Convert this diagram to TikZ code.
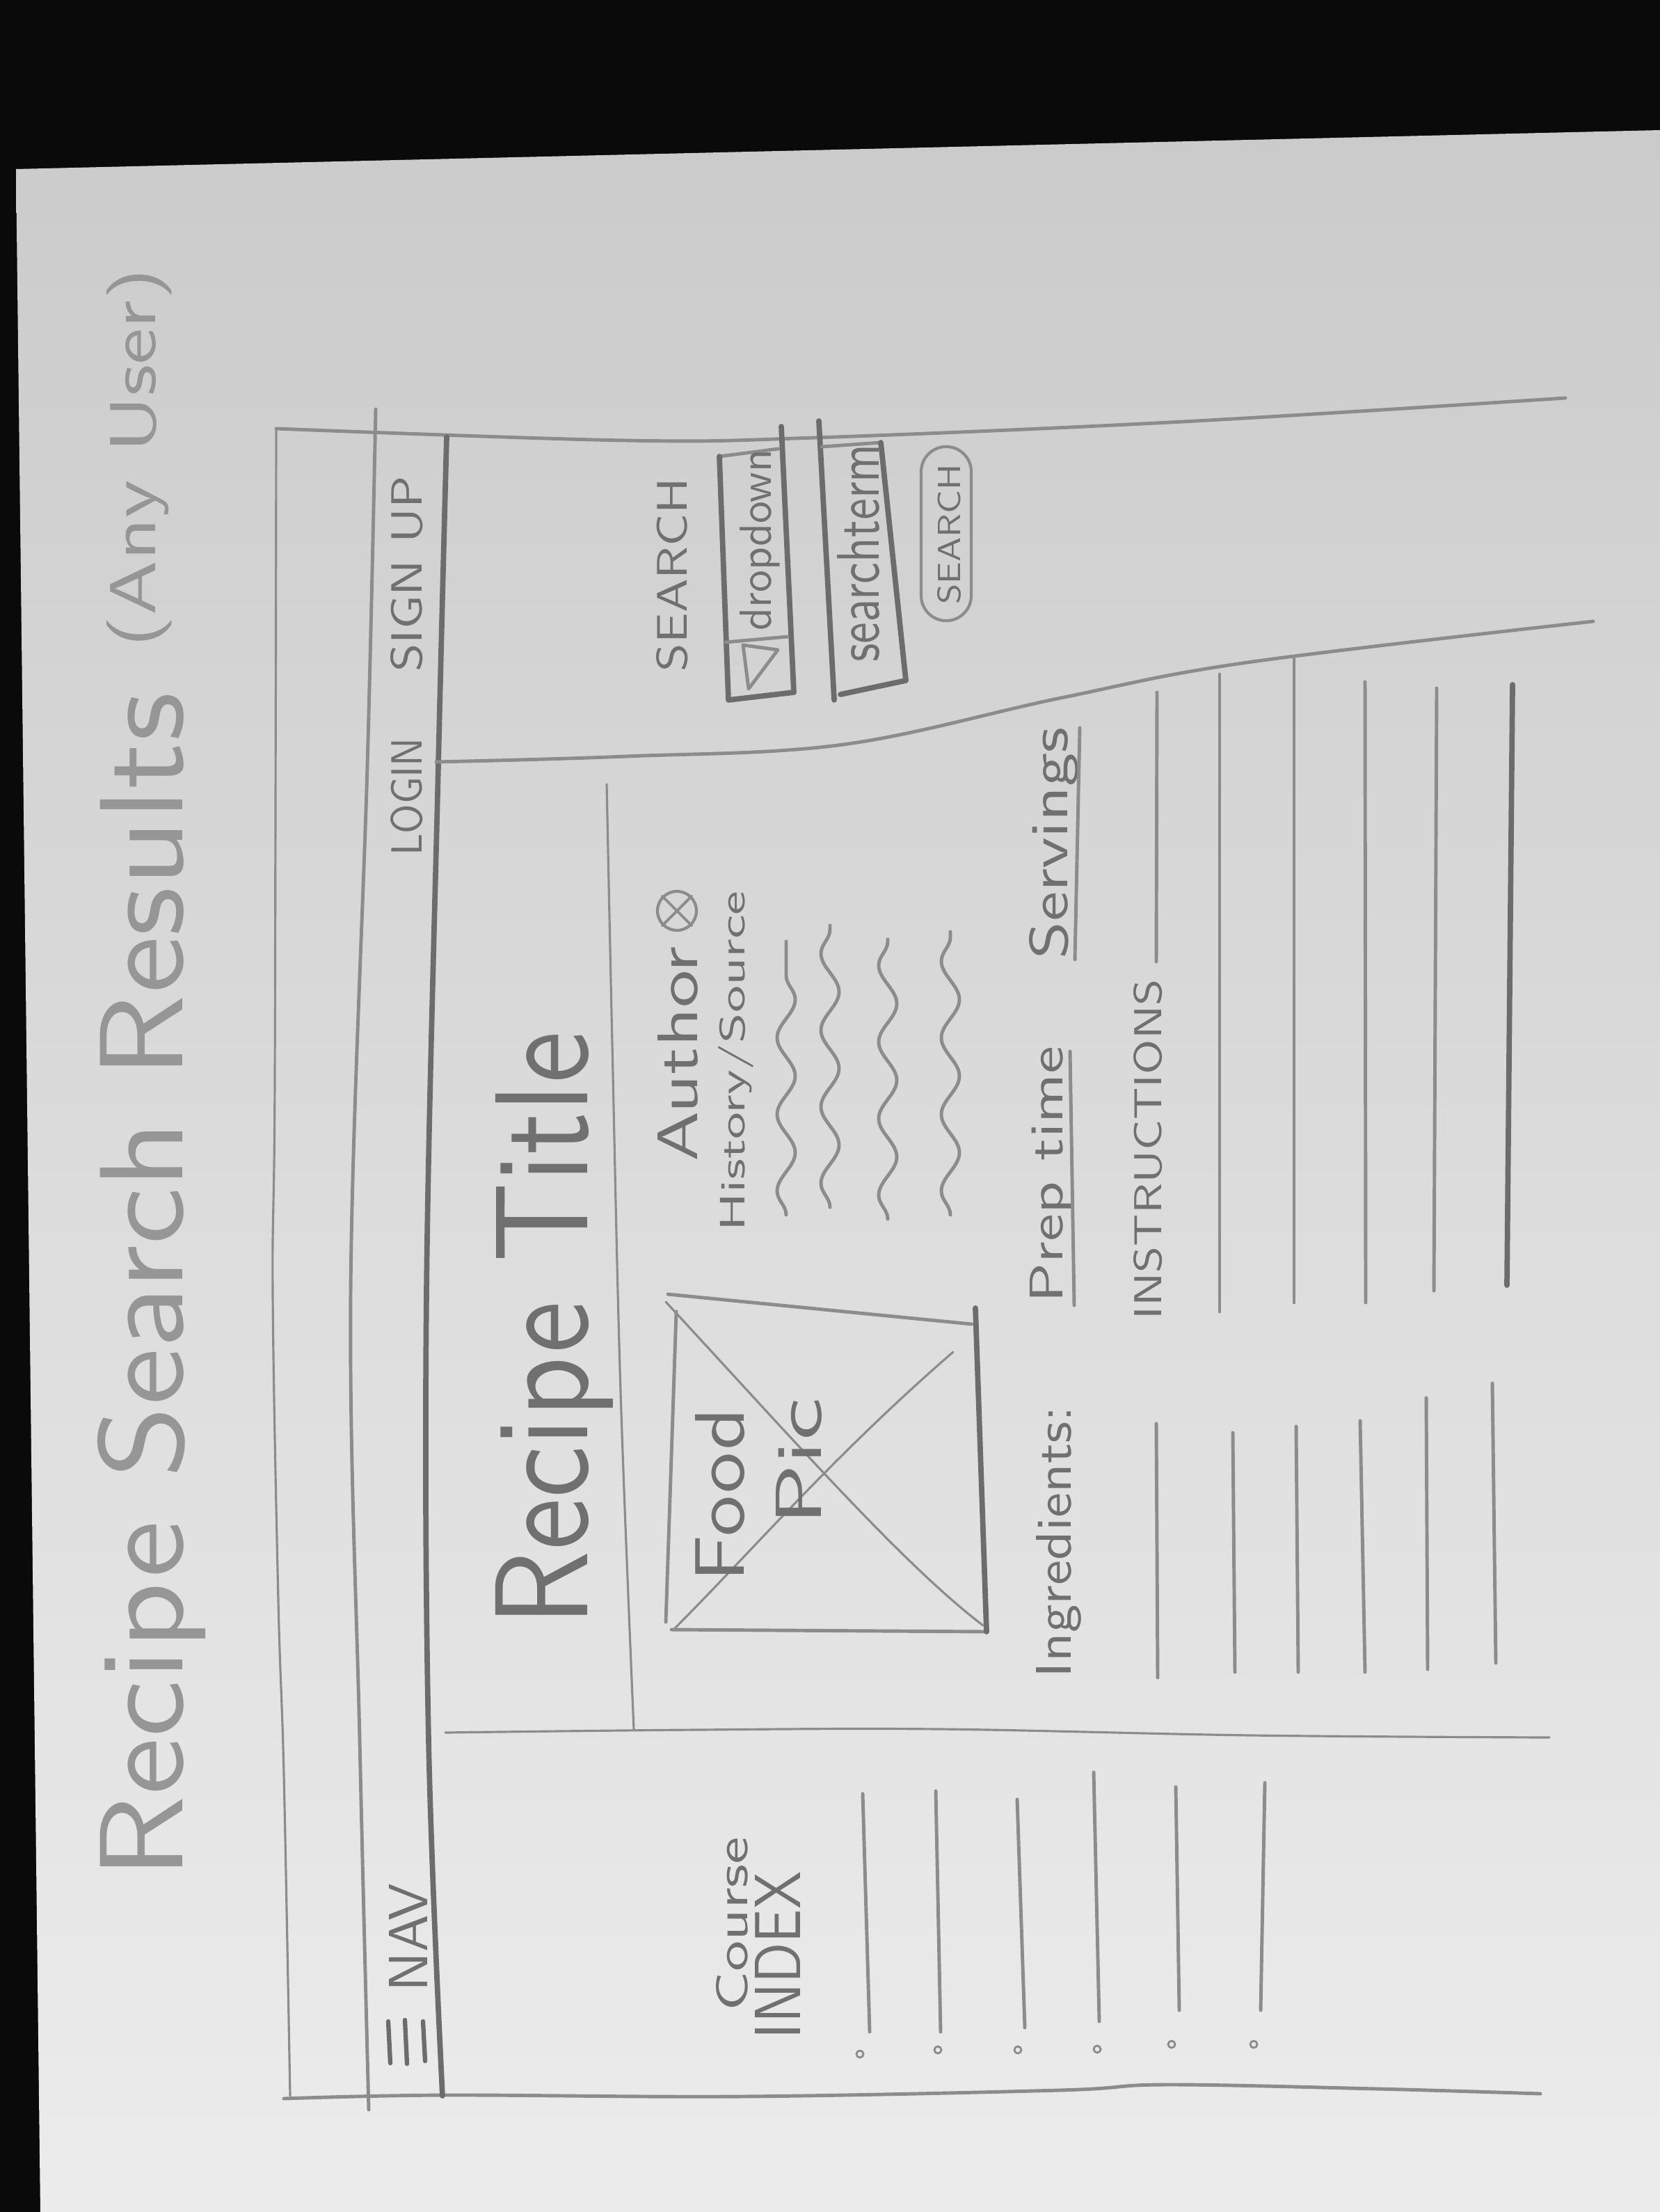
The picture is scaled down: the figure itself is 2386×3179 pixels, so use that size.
\documentclass[tikz,border=0pt]{standalone}
\usetikzlibrary{decorations.pathmorphing}
\definecolor{backdrop}{RGB}{10,10,10}
\definecolor{papertop}{RGB}{203,203,203}
\definecolor{paperbottom}{RGB}{236,236,236}
\definecolor{pencil}{RGB}{140,140,140}
\definecolor{pencildark}{RGB}{108,108,108}
\definecolor{lead}{RGB}{112,112,112}
\definecolor{leadlight}{RGB}{150,150,150}
% handwritten label: length along the text, height of the letters (both in cm)
\newcommand{\hwtext}[3]{\resizebox{#1cm}{#2cm}{\sffamily #3}}

\begin{document}
\begin{tikzpicture}[x=0.01cm, y=-0.01cm,
  pen/.style={draw=pencil, line width=1.4pt, line cap=round, line join=round},
  penthick/.style={draw=pencildark, line width=2.2pt, line cap=round, line join=round},
  penthin/.style={draw=pencil, line width=0.9pt, line cap=round, line join=round},
  hand/.style={inner sep=0pt, outer sep=0pt, rotate=90, text=lead},
  handlight/.style={hand, text=leadlight},
  wave/.style={pen, decorate, decoration={snake, amplitude=0.13cm, segment length=1.1cm}},
  bullet/.style={circle, draw=pencil, line width=0.8pt, inner sep=0pt, minimum size=0.1cm},
]
% table top and the sheet of paper
\fill[backdrop] (0,0) rectangle (2386,3179);
\useasboundingbox (0,0) rectangle (2386,3179);
\shade[top color=papertop, bottom color=paperbottom]
  (23,243) -- (2386,187) -- (2386,3179) -- (58,3179) -- cycle;

% page heading
\node[handlight] (heading) at (218,1848) {\hwtext{17.04}{1.22}{Recipe Search Results}};
\node[handlight] (audience) at (200,658) {\hwtext{5.44}{0.70}{(Any User)}};

% browser frame
\draw[pen] plot[smooth, tension=0.6] coordinates {(397,616) (898,633) (1172,629) (1700,606) (2250,572)};
\draw[penthin] plot[smooth, tension=0.6] coordinates {(397,616) (395,1550) (392,1858) (400,2300) (408,2550) (417,3012)};
\draw[pen] plot[smooth, tension=0.6] coordinates {(408,3016) (639,3011) (1065,3013) (1522,3004) (1674,2996) (1979,3002) (2214,3009)};

% navigation strip
\draw[pen] plot[smooth, tension=0.6] coordinates {(540,588) (528,1100) (504,1858) (517,2500) (530,3032)};
\draw[penthick] plot[smooth, tension=0.6] coordinates {(642,628) (630,1100) (613,1858) (616,2500) (636,3012)};
\node[hand] (login) at (585,1145) {\hwtext{1.69}{0.45}{LOGIN}};
\node[hand] (signup) at (585,825) {\hwtext{2.81}{0.45}{SIGN UP}};
\node[hand] (nav) at (587,2785) {\hwtext{1.55}{0.55}{NAV}};
\draw[penthick, line width=1.8pt] (558,2905) -- (561,2965);
\draw[penthick, line width=1.8pt] (582,2903) -- (585,2966);
\draw[penthick, line width=1.8pt] (608,2905) -- (611,2962);

% search panel
\draw[pen] plot[smooth, tension=0.6] coordinates {(627,1095) (900,1087) (1212,1070) (1525,1003) (1793,952) (2290,893)};
\node[hand] (searchlabel) at (966,826) {\hwtext{2.78}{0.44}{SEARCH}};
% dropdown field
\draw[penthick] (1123,613) -- (1141,995);
\draw[pen] (1034,656) -- (1119,645);
\draw[penthick] (1034,656) -- (1047,1006) -- (1141,995);
\draw[pen] (1043,923) -- (1132,915);
\draw[pen] (1068,927) -- (1118,934) -- (1076,990) -- cycle;
\node[hand] (dropdown) at (1092,776) {\hwtext{2.60}{0.45}{dropdown}};
% search term field
\draw[penthick] (1177,605) -- (1199,1006);
\draw[pen] (1181,642) -- (1266,636);
\draw[penthick] (1266,636) -- (1302,978) -- (1208,998);
\node[hand] (searchterm) at (1234,795) {\hwtext{3.13}{0.60}{searchterm}};
% search button
\node[draw=pencil, line width=1.2pt, rounded corners=0.36cm, minimum width=0.72cm,
      minimum height=2.5cm, inner sep=0pt] (searchbtn) at (1360,767) {};
\node[hand] (searchbtntext) at (1364,768) {\hwtext{2.01}{0.33}{SEARCH}};

% recipe card
\draw[penthin] plot[smooth, tension=0.6] coordinates {(872,1127) (880,1500) (892,2000) (911,2485)};
\draw[penthin] plot[smooth, tension=0.6] coordinates {(640,2490) (1000,2486) (1350,2485) (1800,2494) (2227,2497)};
\node[hand] (recipetitle) at (797,1910) {\hwtext{8.54}{1.32}{Recipe Title}};

% author and history
\node[hand] (author) at (974,1515) {\hwtext{3.09}{0.57}{Author}};
\node[circle, draw=pencil, line width=1.2pt, minimum size=0.56cm, inner sep=0pt] (authoricon) at (973,1309) {};
\draw[pen, line width=1.1pt] (authoricon.north west) -- (authoricon.south east);
\draw[pen, line width=1.1pt] (authoricon.north east) -- (authoricon.south west);
\node[hand] (history) at (1058,1525) {\hwtext{4.88}{0.38}{History/Source}};
\draw[wave] (1130,1746) -- (1130,1353);
\draw[wave] (1193,1735) -- (1193,1330);
\draw[wave] (1276,1752) -- (1276,1350);
\draw[wave] (1366,1746) -- (1366,1339);

% food picture placeholder
\draw[pen] (960,1860) -- (1397,1903);
\draw[pen] (972,1885) -- (957,2331);
\draw[pen] (965,2342) -- (1418,2345);
\draw[penthick] (1402,1880) -- (1418,2345);
\draw[penthin] (957,1871) .. controls (1150,2080) and (1300,2250) .. (1413,2336);
\draw[penthin] (1370,1943) .. controls (1200,2090) and (1080,2230) .. (968,2342);
\node[hand] (food) at (1035,2148) {\hwtext{2.50}{0.70}{Food}};
\node[hand] (pic) at (1148,2101) {\hwtext{1.83}{0.65}{Pic}};

% prep time, servings
\node[hand] (preptime) at (1511,1688) {\hwtext{3.69}{0.47}{Prep time}};
\draw[pen] (1538,1511) -- (1544,1876);
\node[hand] (servings) at (1515,1212) {\hwtext{3.33}{0.55}{Servings}};
\draw[pen] (1552,1046) -- (1545,1379);

% instructions
\node[hand] (instructions) at (1650,1652) {\hwtext{4.89}{0.40}{INSTRUCTIONS}};
\draw[pen] (1663,995) -- (1662,1382);
\draw[pen] (1753,969) -- (1753,1885);
\draw[pen] (1860,946) -- (1860,1872);
\draw[pen] (1962,980) -- (1963,1872);
\draw[pen] (2065,989) -- (2061,1855);
\draw[penthick] (2174,984) -- (2166,1847);

% ingredients
\node[hand] (ingredients) at (1522,2216) {\hwtext{3.90}{0.50}{Ingredients:}};
\draw[pen] (1662,2046) -- (1664,2411);
\draw[pen] (1772,2059) -- (1775,2403);
\draw[pen] (1863,2050) -- (1866,2403);
\draw[pen] (1955,2042) -- (1962,2403);
\draw[pen] (2050,2009) -- (2052,2399);
\draw[pen] (2145,1988) -- (2150,2390);

% course index
\node[hand] (course) at (1052,2765) {\hwtext{2.50}{0.45}{Course}};
\node[hand] (index) at (1118,2810) {\hwtext{2.40}{0.65}{INDEX}};
\draw[pen] (1240,2578) -- (1250,2920);
\draw[pen] (1345,2574) -- (1352,2920);
\draw[pen] (1462,2586) -- (1473,2914);
\draw[pen] (1572,2547) -- (1580,2905);
\draw[pen] (1690,2568) -- (1695,2889);
\draw[pen] (1818,2562) -- (1812,2889);
\node[bullet] (b1) at (1236,2952) {};
\node[bullet] (b2) at (1348,2946) {};
\node[bullet] (b3) at (1463,2946) {};
\node[bullet] (b4) at (1577,2945) {};
\node[bullet] (b5) at (1684,2938) {};
\node[bullet] (b6) at (1802,2938) {};
\end{tikzpicture}
\end{document}
